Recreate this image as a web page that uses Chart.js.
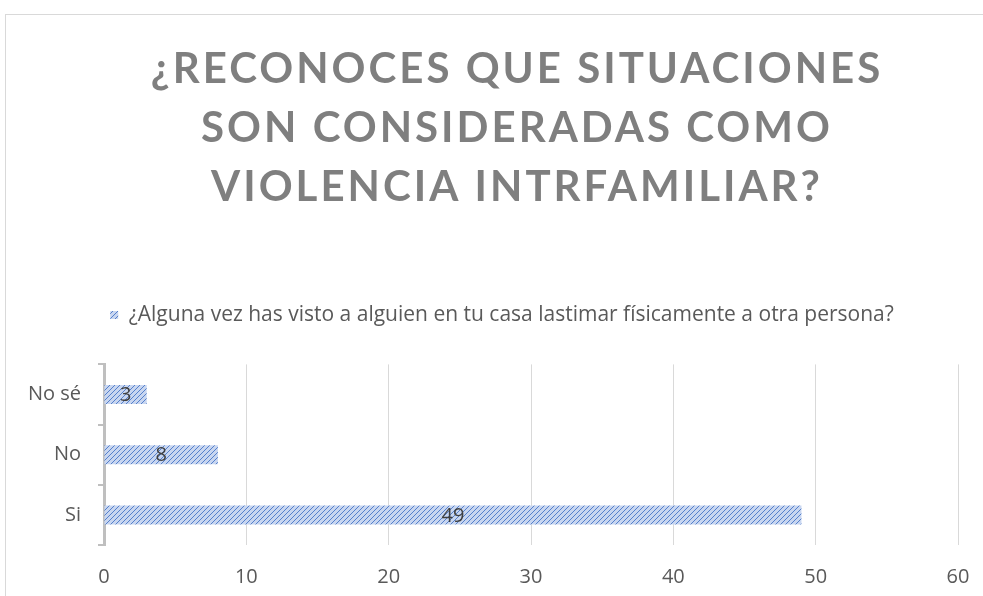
<!DOCTYPE html>
<html>
<head>
<meta charset="utf-8">
<title>Violencia intrafamiliar</title>
<script src="https://cdn.jsdelivr.net/npm/chart.js@4"></script>
<style>
  html, body { margin: 0; padding: 0; background: #fff; }
  #wrap { position: relative; width: 983px; height: 596px; overflow: hidden; }
  #frame {
    position: absolute; left: 5px; top: 14px; width: 1100px; height: 700px;
    border: 1px solid #d9d9d9; box-sizing: border-box;
  }
  #chart { position: absolute; left: 0; top: 0; }
</style>
</head>
<body>
<div id="wrap">
  <div id="frame"></div>
  <canvas id="chart" width="983" height="596"></canvas>
</div>
<script>
// chart data
const titleLines = ["¿RECONOCES QUE SITUACIONES", "SON CONSIDERADAS COMO", "VIOLENCIA INTRFAMILIAR?"];
const seriesName = "¿Alguna vez has visto a alguien en tu casa lastimar físicamente a otra persona?";
const categories = ["No sé", "No", "Si"];
const values = [3, 8, 49];
const xMin = 0;
const xMax = 60;
const xStep = 10;

const TITLE_FONT = "Lato";
const FONT = "'Open Sans'";

// diagonal hatch like the Excel "light upward diagonal" fill
function makeHatch(ctx) {
  const tile = document.createElement("canvas");
  tile.width = 5;
  tile.height = 5;
  const t = tile.getContext("2d");
  t.fillStyle = "#c8d6f0";
  t.fillRect(0, 0, 5, 5);
  t.fillStyle = "#5580cc";
  for (let i = 0; i < 5; i++) {
    t.fillRect(i, 4 - i, 1, 1);
  }
  return ctx.createPattern(tile, "repeat");
}

// value labels centred on each bar
const barLabels = {
  id: "barLabels",
  afterDatasetsDraw(chart) {
    const ctx = chart.ctx;
    const meta = chart.getDatasetMeta(0);
    ctx.save();
    ctx.font = `20px ${FONT}`;
    ctx.fillStyle = "#404040";
    ctx.textAlign = "center";
    ctx.textBaseline = "middle";
    meta.data.forEach((bar, i) => {
      ctx.fillText(String(values[i]), (bar.x + bar.base) / 2, bar.y + 1);
    });
    ctx.restore();
  },
};

const canvas = document.getElementById("chart");
const ctx = canvas.getContext("2d");

const chart = new Chart(ctx, {
  type: "bar",
  data: {
    labels: categories,
    datasets: [
      {
        label: seriesName,
        data: values,
        backgroundColor: makeHatch(ctx),
        borderWidth: 0,
        barPercentage: 0.315,
        categoryPercentage: 1,
      },
    ],
  },
  options: {
    indexAxis: "y",
    responsive: false,
    animation: false,
    layout: { padding: { left: 28, right: 25, top: 0, bottom: 8 } },
    plugins: {
      title: {
        display: true,
        text: titleLines,
        color: "#7f7f7f",
        font: { family: TITLE_FONT, size: 42, weight: "bold", lineHeight: 1.4 },
        padding: { top: 40, bottom: 78 },
      },
      legend: {
        display: true,
        position: "top",
        labels: {
          boxWidth: 8,
          boxHeight: 8,
          color: "#595959",
          font: { family: FONT, size: 21 },
          padding: 10,
        },
      },
      tooltip: { enabled: false },
    },
    scales: {
      x: {
        min: xMin,
        max: xMax,
        ticks: {
          stepSize: xStep,
          color: "#595959",
          font: { family: FONT, size: 20 },
          padding: 13,
        },
        // invisible tick marks keep the labels low without eating the right edge
        grid: { color: "#d9d9d9", lineWidth: 1, drawTicks: true, tickLength: 7, tickColor: "rgba(0,0,0,0)" },
        border: { display: false },
        afterFit(scale) {
          scale.height = 43;
        },
      },
      y: {
        ticks: {
          color: "#595959",
          font: { family: FONT, size: 20 },
          padding: 17,
        },
        grid: {
          offset: true,
          drawOnChartArea: false,
          color: "#bfbfbf",
          lineWidth: 2,
          tickLength: 6,
        },
        border: { color: "#bfbfbf", width: 3 },
        afterFit(scale) {
          scale.width = 76;
        },
      },
    },
  },
  plugins: [barLabels],
});

// letter-spaced title, shifted to the centre of the Office chart frame
const titleDraw = chart.titleBlock.draw.bind(chart.titleBlock);
chart.titleBlock.draw = function () {
  chart.ctx.save();
  chart.ctx.letterSpacing = "3px";
  chart.ctx.translate(24, 0);
  titleDraw();
  chart.ctx.restore();
};

// legend sits a bit right of the canvas centre too
const legendDraw = chart.legend.draw.bind(chart.legend);
chart.legend.draw = function () {
  chart.ctx.save();
  chart.ctx.translate(9, 0);
  legendDraw();
  chart.ctx.restore();
};

// extra gap under the legend before the plot area
const legendFit = chart.legend.fit.bind(chart.legend);
chart.legend.fit = function () {
  legendFit();
  this.height += 29;
};

chart.update();
</script>
</body>
</html>
